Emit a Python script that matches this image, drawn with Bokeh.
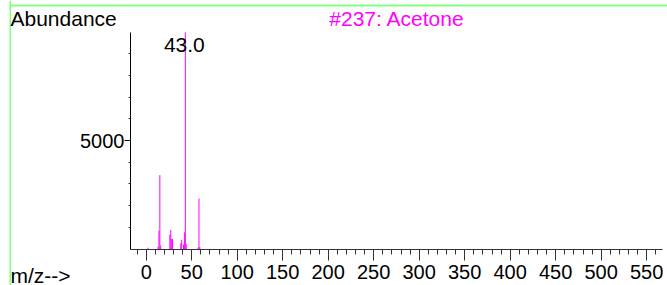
from bokeh.plotting import figure
from bokeh.models import Label, FixedTicker, Range1d, BoxAnnotation
from bokeh.embed import file_html
from bokeh.resources import INLINE

# Data (m/z vs abundance)
mz = [2, 13, 14, 15, 16, 26, 27, 28, 29, 38, 39, 41, 42, 43, 44, 57, 58, 59]
abundance = [60, 110, 840, 3410, 160, 660, 880, 460, 460, 250, 430, 200, 770, 10000, 240, 70, 2330, 90]
base_peak_mz = 43
base_peak_label = "43.0"
title_text = "#237: Acetone"
y_label_text = "Abundance"
x_label_text = "m/z-->"
x_major_ticks = list(range(0, 551, 50))
x_minor_ticks = list(range(-10, 561, 10))
y_major_ticks = [5000]
y_minor_ticks = list(range(1000, 10000, 1000))
x_axis_extent = (-17.25, 567.4)
y_axis_extent = (0, 10000)

FONT = "Liberation Sans"
MAGENTA = "#ff00ff"
GREEN = "#80ff80"

W, H = 667, 285
# pixel geometry of the reference: m/z 0 at x=145.7, 0.91 px per m/z unit;
# abundance 0 at y=248.5, 21.667 px per 1000 counts
X0_PX, XS = 145.7, 0.91
Y0_PX, YS = 248.5, 0.021667
TEXT_DY = 7  # correction between requested and rendered text baseline

def xd(px):
    return (px - X0_PX) / XS

def yd(py):
    return (Y0_PX - py) / YS

# The frame fills the whole canvas; the axes are drawn at fixed locations
p = figure(width=W, height=H, output_backend="svg", toolbar_location=None,
           x_range=Range1d(xd(0), xd(W)), y_range=Range1d(yd(H), yd(0)),
           min_border=0)
p.outline_line_color = None
p.grid.visible = False
p.background_fill_color = "white"
p.border_fill_color = "white"

p.segment(x0=mz, y0=[0] * len(mz), x1=mz, y1=abundance, line_color=MAGENTA, line_width=1)

xa = p.xaxis[0]
xa.fixed_location = 0
xa.bounds = x_axis_extent
xa.ticker = FixedTicker(ticks=x_major_ticks, minor_ticks=x_minor_ticks)
xa.major_tick_out = 11
xa.major_tick_in = 0
xa.minor_tick_out = 5
xa.minor_tick_in = 0
xa.major_label_text_font = FONT
xa.major_label_text_font_size = "20px"
xa.major_label_text_color = "black"
xa.major_label_standoff = 5
xa.axis_line_color = "#333333"
xa.major_tick_line_color = "#333333"
xa.minor_tick_line_color = "#333333"

ya = p.yaxis[0]
ya.fixed_location = x_axis_extent[0]
ya.bounds = y_axis_extent
ya.ticker = FixedTicker(ticks=y_major_ticks, minor_ticks=y_minor_ticks)
ya.major_tick_out = 6
ya.major_tick_in = 0
ya.minor_tick_out = 2
ya.minor_tick_in = 0
ya.major_label_text_font = FONT
ya.major_label_text_font_size = "20px"
ya.major_label_text_color = "black"
ya.major_label_standoff = 0
ya.axis_line_color = "black"
ya.major_tick_line_color = "black"
ya.minor_tick_line_color = "#333333"

# light green frame lines at top and left
p.add_layout(BoxAnnotation(left=xd(9), top=yd(4), bottom=yd(6),
                           fill_color=GREEN, fill_alpha=1, line_color=None))
p.add_layout(BoxAnnotation(left=xd(9), right=xd(10.5),
                           fill_color=GREEN, fill_alpha=1, line_color=None))

def lab(text, px, py, align="left", color="black", size="21px"):
    return Label(x=xd(px), y=yd(py - TEXT_DY), text=text,
                 text_font=FONT, text_font_size=size, text_color=color,
                 text_align=align, text_baseline="alphabetic")

p.add_layout(lab(y_label_text, 10, 25))
p.add_layout(lab(title_text, 396.5, 25, align="center", color=MAGENTA))
p.add_layout(lab(x_label_text, 10, 281.5))
p.add_layout(Label(x=base_peak_mz, y=yd(51.7 - TEXT_DY), text=base_peak_label, x_offset=-1,
                   text_font=FONT, text_font_size="21px", text_color="black",
                   text_align="center", text_baseline="alphabetic"))

open("out.html", "w").write(file_html(p, INLINE))
